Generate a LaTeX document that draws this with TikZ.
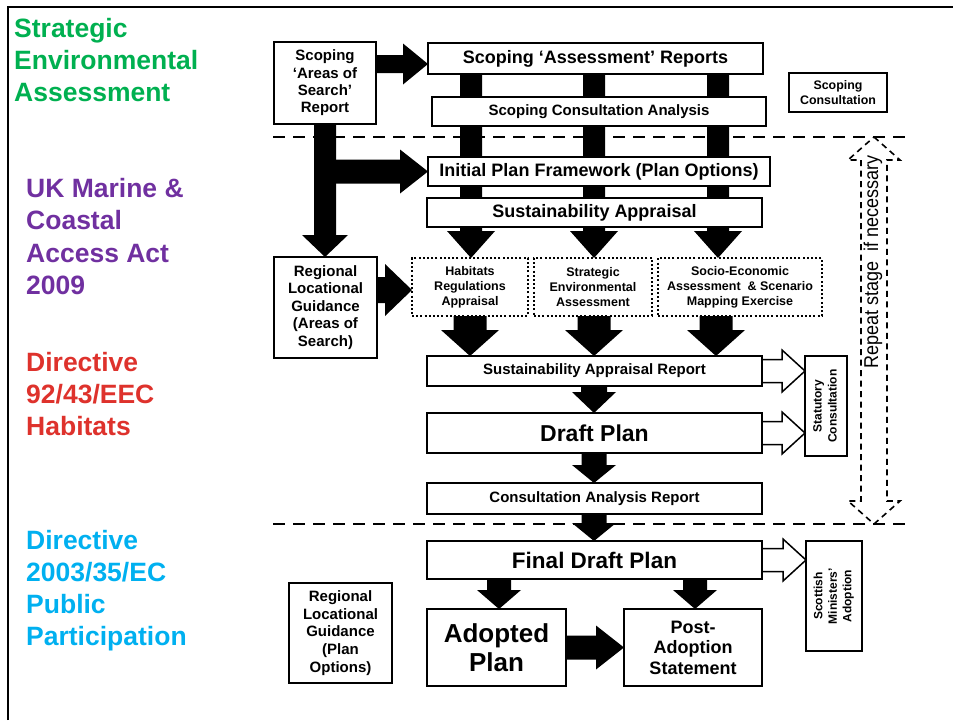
\documentclass[tikz,border=0pt]{standalone}
\usepackage{fontspec}
\setmainfont{Liberation Sans}
\usetikzlibrary{calc}
\pgfdeclarelayer{bg}
\pgfsetlayers{bg,main}
\definecolor{sgreen}{RGB}{0,176,80}
\definecolor{spurple}{RGB}{112,48,160}
\definecolor{sred}{RGB}{222,50,44}
\definecolor{scyan}{RGB}{0,176,240}
% block arrow pointing down: style, start, end, body half, head half, head length
\newcommand\downarr[6]{%
  \path[#1] let \p1=(#2),\p2=(#3) in (\x1-#4pt,\y1) -- (\x1+#4pt,\y1) -- (\x1+#4pt,\y2+#6pt) -- (\x1+#5pt,\y2+#6pt) -- (\x1,\y2) -- (\x1-#5pt,\y2+#6pt) -- (\x1-#4pt,\y2+#6pt) -- cycle;}
% block arrow pointing right: style, start, end, body half, head half, head length
\newcommand\rightarr[6]{%
  \path[#1] let \p1=(#2),\p2=(#3) in (\x1,\y1+#4pt) -- (\x2-#6pt,\y1+#4pt) -- (\x2-#6pt,\y1+#5pt) -- (\x2,\y1) -- (\x2-#6pt,\y1-#5pt) -- (\x2-#6pt,\y1-#4pt) -- (\x1,\y1-#4pt) -- cycle;}
\tikzset{
  box/.style={draw, line width=2.6pt, fill=white, inner sep=0pt, outer sep=0pt, align=center, anchor=north west},
  thinbox/.style={box, line width=1.5pt},
  sz/.style 2 args={minimum width=#1pt, minimum height=#2pt},
  fs/.style 2 args={font=\bfseries\fontsize{#1}{#2}\selectfont},
  dotbox/.style={draw, line width=2pt, dash pattern=on 2pt off 2.2pt, fill=white, inner sep=0pt, outer sep=0pt, align=center, anchor=north west, fs={12.5}{15}},
  lbl/.style={anchor=north west, inner sep=0pt, align=left, fs={26.5}{32}},
  sep/.style={line width=2.4pt, dash pattern=on 12pt off 8pt},
  solidarr/.style={fill=black},
  hollowarr/.style={draw, fill=white, line width=1.5pt, line join=miter},
  repeatarr/.style={draw, line width=1.6pt, dash pattern=on 6pt off 4.5pt},
}
\begin{document}
\begin{tikzpicture}[x=1pt,y=-1pt]
\useasboundingbox (0,0) rectangle (955,720);
% frame
\draw[line width=2.4pt] (8,720) -- (8,7) -- (953,7);
% left labels
\node[lbl, text=sgreen] (lsea) at (14,18) {Strategic\\Environmental\\Assessment};
\node[lbl, text=spurple, fs={26.5}{32.3}] (lmar) at (26,178) {UK Marine \&\\Coastal\\Access Act\\2009};
\node[lbl, text=sred] (lhab) at (26,352) {Directive\\92/43/EEC\\Habitats};
\node[lbl, text=scyan] (lpub) at (26,530) {Directive\\2003/35/EC\\Public\\Participation};
% boxes
\node[box, sz={102}{82}, fs={15}{17.4}] (saos) at (274,42) {Scoping\\‘Areas of\\Search’\\Report};
\node[box, sz={335}{31}, fs={18}{20}] (sar) at (428,43) {Scoping ‘Assessment’ Reports};
\node[box, line width=2.2pt, sz={334}{29}, fs={15}{18}] (sca) at (432,97) {Scoping Consultation Analysis};
\node[thinbox, sz={98}{39}, fs={12.4}{14.5}] (scon) at (789,73) {Scoping\\Consultation};
\node[box, sz={342}{29}, fs={18}{20}] (ipf) at (428,157) {Initial Plan Framework (Plan Options)};
\node[thinbox, sz={335}{29}, fs={18}{20}] (sa) at (427,198) {Sustainability Appraisal};
\node[box, sz={103}{101}, fs={15}{17.5}] (rlg) at (274,257) {Regional\\Locational\\Guidance\\(Areas of\\Search)};
\node[dotbox, sz={116}{58}] (hra) at (412,258) {Habitats\\Regulations\\Appraisal};
\node[dotbox, sz={118}{58}] (sea) at (534,258) {Strategic\\Environmental\\Assessment};
\node[dotbox, sz={164}{58}] (sem) at (658,258) {Socio-Economic\\Assessment \ \& Scenario\\Mapping Exercise};
\node[box, sz={335}{30}, fs={15}{18}] (sarep) at (427,356) {Sustainability Appraisal Report};
\node[box, sz={335}{40}, fs={23}{26}] (draft) at (427,413) {Draft Plan};
\node[box, sz={335}{31}, fs={15}{18}] (car) at (427,483) {Consultation Analysis Report};
\node[thinbox, sz={42}{100}, fs={12}{15}] (stat) at (805,356) {\rotatebox{90}{\begin{tabular}{@{}c@{}}Statutory\\Consultation\end{tabular}}};
\node[box, sz={335}{38}, fs={22.5}{25}] (fdp) at (427,541) {Final Draft Plan};
\node[thinbox, sz={56}{110}, fs={12}{14.5}] (smin) at (806,541) {\rotatebox{90}{\begin{tabular}{@{}c@{}}Scottish\\Ministers’\\Adoption\end{tabular}}};
\node[box, sz={139}{77}, fs={26}{29}] (adopted) at (427,609) {Adopted\\Plan};
\node[box, sz={138}{77}, fs={18}{20.5}] (post) at (624,609) {Post-\\Adoption\\Statement};
\node[box, sz={103}{100}, fs={15}{17.7}] (rlgp) at (289,583) {Regional\\Locational\\Guidance\\(Plan\\Options)};
% columns
\coordinate (c1) at (471,0);
\coordinate (c2) at (594,0);
\coordinate (c3) at (718,0);
\coordinate (d1) at (470,0);
\coordinate (d3) at (716,0);
\coordinate (a1) at (499,0);
\coordinate (a2) at (695,0);
% solid block arrows, behind boxes
\begin{pgfonlayer}{bg}
\rightarr{solidarr}{$(saos.north east)+(0,22)$}{sar.west}{9}{20.5}{25}
\downarr{solidarr}{saos.south}{rlg.north}{11}{23}{22}
\rightarr{solidarr}{rlg.north |- ipf.west}{ipf.west}{12}{22}{28}
\downarr{solidarr}{sar.south -| c1}{hra.north -| c1}{11}{24}{27}
\downarr{solidarr}{sar.south -| c2}{sea.north -| c2}{11}{24}{27}
\downarr{solidarr}{sar.south -| c3}{sem.north -| c3}{11}{24}{27}
\rightarr{solidarr}{$(rlg.north east)+(0,33)$}{hra.west}{13}{26}{27}
\downarr{solidarr}{hra.south -| d1}{sarep.north -| d1}{16.5}{29}{26}
\downarr{solidarr}{sea.south -| c2}{sarep.north -| c2}{16.5}{29}{26}
\downarr{solidarr}{sem.south -| d3}{sarep.north -| d3}{16.5}{29}{26}
\downarr{solidarr}{sarep.south -| c2}{draft.north -| c2}{13}{22}{21}
\downarr{solidarr}{draft.south -| c2}{car.north -| c2}{12.5}{22}{18}
\downarr{solidarr}{car.south -| c2}{fdp.north -| c2}{12.5}{22}{18}
\downarr{solidarr}{fdp.south -| a1}{adopted.north -| a1}{12}{22}{19}
\downarr{solidarr}{fdp.south -| a2}{post.north -| a2}{12}{22}{19}
\rightarr{solidarr}{adopted.east}{post.west}{12}{22}{28}
\end{pgfonlayer}
% hollow arrows
\rightarr{hollowarr}{sarep.east}{stat.west}{11.5}{21}{23}
\rightarr{hollowarr}{draft.east}{stat.west}{11.5}{21}{23}
\rightarr{hollowarr}{fdp.east}{smin.west}{11.5}{21}{23}
% separators
\coordinate (s1l) at (273,137);
\coordinate (s1r) at (907,137);
\coordinate (s2l) at (273,524);
\coordinate (s2r) at (907,524);
\draw[sep] (s1l) -- (s1r);
\draw[sep] (s2l) -- (s2r);
% repeat arrow
\coordinate (rt) at (874,137);
\coordinate (rb) at (874,524);
\path[repeatarr] let \p1=(rt),\p2=(rb) in (\x1,\y1) -- (\x1+26pt,\y1-23pt) -- (\x1+13pt,\y1-23pt) -- (\x1+13pt,\y2+23pt) -- (\x1+26pt,\y2+23pt) -- (\x2,\y2) -- (\x1-26pt,\y2+23pt) -- (\x1-13pt,\y2+23pt) -- (\x1-13pt,\y1-23pt) -- (\x1-26pt,\y1-23pt) -- cycle;
\node[rotate=90, inner sep=0pt, font=\fontsize{20}{22}\selectfont] (rep) at (873,262) {\scalebox{0.9}[1]{Repeat stage \ if necessary}};
\end{tikzpicture}
\end{document}
